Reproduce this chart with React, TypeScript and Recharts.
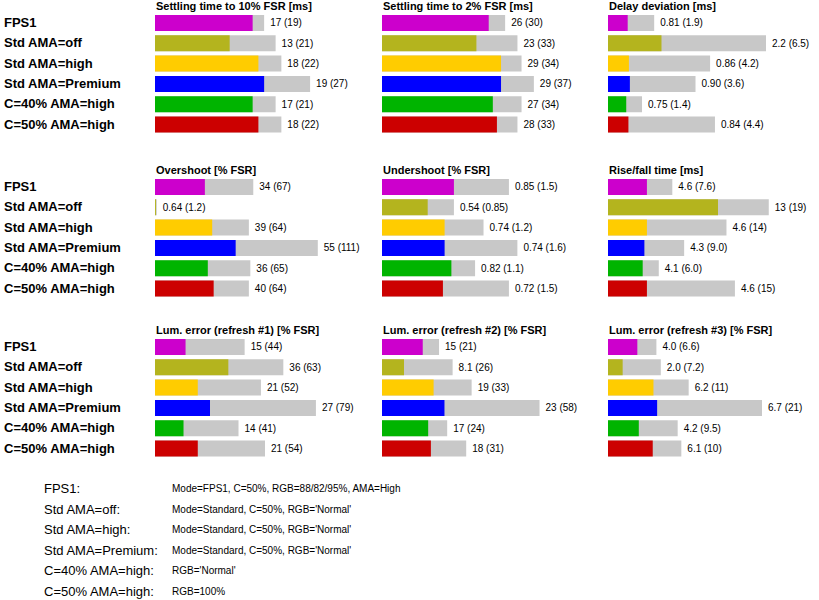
import { Bar, BarChart, Cell, LabelList, XAxis, YAxis } from 'recharts'

const modes = ['FPS1', 'Std AMA=off', 'Std AMA=high', 'Std AMA=Premium', 'C=40% AMA=high', 'C=50% AMA=high']
const colors = ['#cc00cc', '#b4b41e', '#ffcc00', '#0000ff', '#00b400', '#cc0000']

const titles = [
  'Settling time to 10% FSR [ms]', 'Settling time to 2% FSR [ms]', 'Delay deviation [ms]',
  'Overshoot [% FSR]', 'Undershoot [% FSR]', 'Rise/fall time [ms]',
  'Lum. error (refresh #1) [% FSR]', 'Lum. error (refresh #2) [% FSR]', 'Lum. error (refresh #3) [% FSR]',
]

const avgValues = [
  [17, 13, 18, 19, 17, 18],
  [26, 23, 29, 29, 27, 28],
  [0.81, 2.2, 0.86, 0.9, 0.75, 0.84],
  [34, 0.64, 39, 55, 36, 40],
  [0.85, 0.54, 0.74, 0.74, 0.82, 0.72],
  [4.6, 13, 4.6, 4.3, 4.1, 4.6],
  [15, 36, 21, 27, 14, 21],
  [15, 8.1, 19, 23, 17, 18],
  [4.0, 2.0, 6.2, 6.7, 4.2, 6.1],
]
const maxValues = [
  [19, 21, 22, 27, 21, 22],
  [30, 33, 34, 37, 34, 33],
  [1.9, 6.5, 4.2, 3.6, 1.4, 4.4],
  [67, 1.2, 64, 111, 65, 64],
  [1.5, 0.85, 1.2, 1.6, 1.1, 1.5],
  [7.6, 19, 14, 9.0, 6.0, 15],
  [44, 63, 52, 79, 41, 54],
  [21, 26, 33, 58, 24, 31],
  [6.6, 7.2, 11, 21, 9.5, 10],
]
const avgLabels = [
  ['17', '13', '18', '19', '17', '18'],
  ['26', '23', '29', '29', '27', '28'],
  ['0.81', '2.2', '0.86', '0.90', '0.75', '0.84'],
  ['34', '0.64', '39', '55', '36', '40'],
  ['0.85', '0.54', '0.74', '0.74', '0.82', '0.72'],
  ['4.6', '13', '4.6', '4.3', '4.1', '4.6'],
  ['15', '36', '21', '27', '14', '21'],
  ['15', '8.1', '19', '23', '17', '18'],
  ['4.0', '2.0', '6.2', '6.7', '4.2', '6.1'],
]
const maxLabels = [
  ['19', '21', '22', '27', '21', '22'],
  ['30', '33', '34', '37', '34', '33'],
  ['1.9', '6.5', '4.2', '3.6', '1.4', '4.4'],
  ['67', '1.2', '64', '111', '65', '64'],
  ['1.5', '0.85', '1.2', '1.6', '1.1', '1.5'],
  ['7.6', '19', '14', '9.0', '6.0', '15'],
  ['44', '63', '52', '79', '41', '54'],
  ['21', '26', '33', '58', '24', '31'],
  ['6.6', '7.2', '11', '21', '9.5', '10'],
]
const domainMax = [38.3, 53.6, 9.05, 150, 2.6, 26, 108, 81, 30]

const legendNames = ['FPS1:', 'Std AMA=off:', 'Std AMA=high:', 'Std AMA=Premium:', 'C=40% AMA=high:', 'C=50% AMA=high:']
const legendTexts = [
  'Mode=FPS1, C=50%, RGB=88/82/95%, AMA=High',
  "Mode=Standard, C=50%, RGB='Normal'",
  "Mode=Standard, C=50%, RGB='Normal'",
  "Mode=Standard, C=50%, RGB='Normal'",
  "RGB='Normal'",
  'RGB=100%',
]

const colX = [155, 382, 608]
const rowTop = [13, 177, 337]
const W = 220
const BAND = 20.3
const TITLE_H = 13
const font = 'Arial, "Liberation Sans", sans-serif'

const Panel = ({ idx }: { idx: number }) => {
  const data = modes.map((m, i) => ({
    name: m,
    avg: avgValues[idx][i],
    max: maxValues[idx][i],
    label: `${avgLabels[idx][i]} (${maxLabels[idx][i]})`,
  }))
  const left = colX[idx % 3]
  const top = rowTop[Math.floor(idx / 3)]
  return (
    <div style={{ position: 'absolute', left, top: top - TITLE_H }}>
      <div style={{ fontSize: 11, fontWeight: 'bold', height: TITLE_H, lineHeight: '12px', paddingLeft: 1 }}>{titles[idx]}</div>
      <BarChart
        width={W}
        height={BAND * 6}
        data={data}
        layout="vertical"
        margin={{ top: 0, right: 0, bottom: 0, left: 0 }}
        barSize={16}
        barGap={-16}
        barCategoryGap={0}
      >
        <XAxis type="number" hide domain={[0, domainMax[idx]]} allowDataOverflow />
        <YAxis type="category" dataKey="name" hide />
        <Bar dataKey="max" fill="#c8c8c8" isAnimationActive={false}>
          <LabelList
            dataKey="label"
            content={(p: any) => (
              <text x={p.x + p.width + 6} y={p.y + p.height / 2} dominantBaseline="central" fontSize={10} fill="#000" fontFamily={font}>
                {p.value}
              </text>
            )}
          />
        </Bar>
        <Bar dataKey="avg" isAnimationActive={false}>
          {data.map((_, i) => (
            <Cell key={i} fill={colors[i]} />
          ))}
        </Bar>
      </BarChart>
    </div>
  )
}

export default function App() {
  return (
    <div style={{ position: 'absolute', left: 0, top: 0, width: 819, height: 600, background: '#fff', fontFamily: font }}>
      {rowTop.map((t, r) =>
        modes.map((m, i) => (
          <div
            key={`${r}-${i}`}
            style={{ position: 'absolute', left: 4, top: t + i * BAND + BAND / 2 - 8, fontSize: 13, fontWeight: 'bold', lineHeight: '16px' }}
          >
            {m}
          </div>
        ))
      )}
      {titles.map((_, i) => (
        <Panel key={i} idx={i} />
      ))}
      {legendNames.map((n, i) => (
        <div key={n} style={{ position: 'absolute', left: 44, top: 480 + i * 20.5, lineHeight: '16px' }}>
          <span style={{ fontSize: 13 }}>{n}</span>
          <span style={{ position: 'absolute', left: 128, top: 1, fontSize: 10, whiteSpace: 'nowrap' }}>{legendTexts[i]}</span>
        </div>
      ))}
    </div>
  )
}
